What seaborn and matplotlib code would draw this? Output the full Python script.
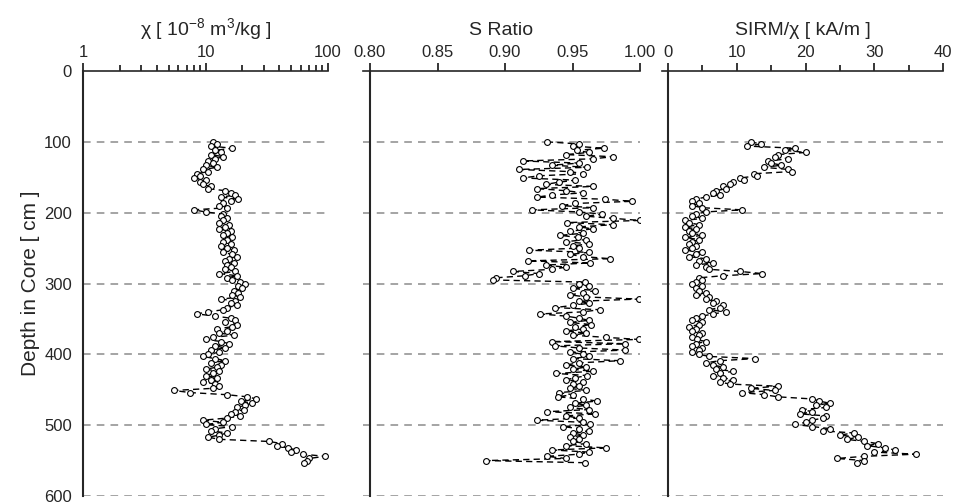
import matplotlib
matplotlib.use("Agg")
import matplotlib.pyplot as plt
import matplotlib.ticker as mticker
import seaborn as sns
import pandas as pd

sns.set_style("white")
plt.rcParams['font.family'] = ['Liberation Sans', 'DejaVu Sans']
plt.rcParams['mathtext.default'] = 'regular'

depth = [100, 103, 106, 109, 112, 115, 118, 121, 124, 127,
         130, 133, 136, 139, 142, 145, 148, 151, 154, 157,
         160, 163, 166, 169, 172, 175, 178, 181, 184, 187,
         190, 193, 196, 199, 202, 205, 208, 211, 214, 217,
         220, 223, 226, 229, 232, 235, 238, 241, 244, 247,
         250, 253, 256, 259, 262, 265, 268, 271, 274, 277,
         280, 283, 286, 289, 292, 295, 298, 301, 304, 307,
         310, 313, 316, 319, 322, 325, 328, 331, 334, 337,
         340, 343, 346, 349, 352, 355, 358, 361, 364, 367,
         370, 373, 376, 379, 382, 385, 388, 391, 394, 397,
         400, 403, 406, 409, 412, 415, 418, 421, 424, 427,
         430, 433, 436, 439, 442, 445, 448, 451, 454, 457,
         460, 463, 466, 469, 472, 475, 478, 481, 484, 487,
         490, 493, 496, 499, 502, 505, 508, 511, 514, 517,
         520, 523, 526, 529, 532, 535, 538, 541, 544, 547,
         550, 553]

chi = [11.5, 12.5, 11.0, 16.5, 12.0, 13.5, 11.0, 14.0, 12.0, 10.5,
       11.5, 10.0, 12.5, 9.5, 10.5, 8.5, 9.0, 8.0, 10.0, 9.0,
       9.5, 11.0, 10.5, 14.5, 16.0, 17.5, 13.5, 18.5, 16.0, 14.0,
       13.0, 15.0, 8.0, 10.0, 14.0, 13.5, 15.0, 14.0, 13.0, 15.5,
       14.5, 13.0, 16.0, 15.0, 14.0, 16.5, 15.0, 14.0, 16.0, 13.5,
       15.0, 17.0, 14.0, 16.5, 18.0, 15.5, 14.5, 17.0, 15.0, 16.0,
       14.5, 17.5, 13.0, 18.0, 15.0, 16.5, 19.0, 21.0, 18.5, 20.0,
       17.0, 18.5, 16.5, 19.0, 13.5, 17.5, 16.0, 18.0, 15.0, 14.0,
       10.5, 8.5, 12.0, 16.0, 17.5, 14.5, 18.0, 16.5, 12.5, 15.0,
       13.0, 17.0, 11.5, 10.0, 13.5, 15.5, 12.0, 14.5, 11.0, 13.0,
       10.5, 9.5, 12.0, 14.5, 11.0, 13.5, 12.5, 10.0, 13.0, 11.5,
       10.0, 12.5, 11.0, 9.5, 12.0, 13.0, 11.5, 5.5, 7.5, 15.0,
       22.0, 26.0, 19.5, 24.0, 21.0, 18.0, 20.5, 17.5, 16.0, 19.0,
       15.0, 9.5, 14.0, 10.0, 16.5, 12.0, 11.0, 15.0, 13.0, 10.5,
       13.0, 33.0, 42.0, 38.0, 47.0, 55.0, 50.0, 62.0, 95.0, 70.0,
       67.0, 64.0]

s_ratio = [0.931, 0.955, 0.950, 0.973, 0.953, 0.962, 0.945, 0.980, 0.965, 0.913,
           0.955, 0.935, 0.961, 0.910, 0.948, 0.958, 0.925, 0.913, 0.952, 0.940,
           0.930, 0.965, 0.924, 0.945, 0.958, 0.935, 0.924, 0.974, 0.994, 0.952,
           0.942, 0.965, 0.920, 0.955, 0.972, 0.960, 0.980, 1.000, 0.946, 0.980,
           0.955, 0.965, 0.948, 0.958, 0.941, 0.954, 0.960, 0.945, 0.962, 0.950,
           0.955, 0.918, 0.962, 0.948, 0.958, 0.978, 0.917, 0.963, 0.930, 0.945,
           0.935, 0.906, 0.925, 0.915, 0.893, 0.891, 0.959, 0.955, 0.962, 0.950,
           0.967, 0.958, 0.948, 0.960, 0.999, 0.955, 0.962, 0.950, 0.937, 0.970,
           0.958, 0.926, 0.945, 0.955, 0.962, 0.948, 0.964, 0.952, 0.958, 0.945,
           0.960, 0.950, 0.975, 0.999, 0.935, 0.989, 0.937, 0.955, 0.989, 0.948,
           0.958, 0.962, 0.950, 0.985, 0.955, 0.945, 0.960, 0.950, 0.965, 0.938,
           0.961, 0.952, 0.945, 0.958, 0.950, 0.955, 0.948, 0.960, 0.940, 0.950,
           0.939, 0.958, 0.968, 0.952, 0.960, 0.948, 0.962, 0.931, 0.967, 0.945,
           0.955, 0.924, 0.958, 0.963, 0.943, 0.955, 0.962, 0.950, 0.958, 0.948,
           0.955, 0.950, 0.960, 0.945, 0.975, 0.935, 0.962, 0.955, 0.931, 0.945,
           0.886, 0.959]

sirm_chi = [12.0, 13.5, 11.5, 18.5, 17.0, 20.0, 16.0, 15.5, 17.5, 14.5,
            15.0, 16.5, 14.0, 17.5, 18.0, 12.5, 13.0, 10.5, 11.0, 9.5,
            9.0, 8.0, 8.5, 7.0, 6.5, 7.5, 5.5, 4.0, 3.5, 4.5,
            3.5, 5.0, 10.7, 5.5, 4.0, 3.5, 5.0, 2.5, 3.0, 4.5,
            2.5, 4.0, 3.0, 3.5, 5.0, 2.5, 4.5, 3.5, 3.0, 4.0,
            3.5, 2.5, 5.0, 4.0, 3.0, 5.5, 4.5, 6.5, 4.0, 5.5,
            6.0, 10.5, 13.7, 8.0, 4.5, 5.0, 4.0, 3.5, 5.0, 4.0,
            4.5, 5.5, 4.0, 6.0, 5.5, 7.0, 6.5, 8.0, 7.5, 6.0,
            8.5, 6.5, 5.0, 4.0, 3.5, 5.0, 4.5, 3.0, 4.0, 3.5,
            5.0, 4.5, 3.5, 4.2, 5.5, 4.0, 3.5, 5.0, 4.5, 3.5,
            4.5, 6.0, 12.7, 7.5, 5.5, 6.5, 8.0, 7.0, 9.5, 7.5,
            6.5, 8.0, 9.5, 7.5, 9.0, 16.0, 12.0, 15.5, 10.7, 14.0,
            16.0, 21.0, 22.0, 23.5, 21.5, 23.0, 19.5, 21.0, 19.2, 23.0,
            22.5, 21.0, 20.0, 18.5, 21.0, 23.6, 22.5, 27.0, 25.0, 27.7,
            26.0, 28.5, 30.5, 29.0, 31.5, 33.0, 30.0, 36.0, 28.5, 24.6,
            28.5, 27.5]

df = pd.DataFrame({"depth": depth, "chi": chi, "s": s_ratio, "sirm": sirm_chi})

W, H = 957, 504
fig = plt.figure(figsize=(W / 100, H / 100), dpi=100)


def make_ax(left_px, right_px):
    top_px, bot_px = 71, 496
    return fig.add_axes([left_px / W, 1 - bot_px / H,
                         (right_px - left_px) / W, (bot_px - top_px) / H])


ax1 = make_ax(83, 328)
ax2 = make_ax(363, 640)
ax3 = make_ax(662, 943)

line_kw = dict(sort=False, estimator=None, color="black", linestyle=(0, (4.5, 3)),
               linewidth=1.0, marker="o", markersize=4.2, markerfacecolor="white",
               markeredgecolor="black", markeredgewidth=0.8, legend=False)

sns.lineplot(data=df, x="chi", y="depth", ax=ax1, **line_kw)
sns.lineplot(data=df, x="s", y="depth", ax=ax2, **line_kw)
sns.lineplot(data=df, x="sirm", y="depth", ax=ax3, **line_kw)

ax1.set_xscale("log")
ax1.set_xlim(1, 100)
ax1.xaxis.set_major_locator(mticker.FixedLocator([1, 10, 100]))
ax1.xaxis.set_major_formatter(mticker.FixedFormatter(["1", "10", "100"]))
ax1.xaxis.set_minor_locator(mticker.LogLocator(base=10, subs=range(2, 10)))
ax1.xaxis.set_minor_formatter(mticker.NullFormatter())

ax2.set_xlim(0.8 - 7 / 1350, 1.0)
ax2.set_xticks([0.80, 0.85, 0.90, 0.95, 1.00])
ax2.xaxis.set_major_formatter(mticker.FormatStrFormatter("%.2f"))

ax3.set_xlim(-6 / 6.875, 40)
ax3.set_xticks([0, 10, 20, 30, 40])
ax3.set_xticks([5, 15, 25, 35], minor=True)

labels = [r"χ [ 10$^{-8}$ m$^{3}$/kg ]", "S Ratio", "SIRM/χ [ kA/m ]"]
for i, (ax, lab) in enumerate(zip([ax1, ax2, ax3], labels)):
    ax.set_ylim(600, 0)
    ax.set_yticks([0, 100, 200, 300, 400, 500, 600])
    for y in [100, 200, 300, 400, 500, 600]:
        ax.axhline(y, color="#8c8c8c", linestyle=(0, (5, 4)), linewidth=1.1, zorder=0)
    ax.xaxis.tick_top()
    ax.xaxis.set_label_position("top")
    ax.set_xlabel(lab, fontsize=14, labelpad=7)
    ax.set_ylabel("")
    ax.spines["bottom"].set_visible(False)
    ax.spines["right"].set_visible(False)
    ax.spines["top"].set_linewidth(1.2)
    ax.spines["left"].set_linewidth(1.5)
    ax.tick_params(axis="both", which="major", direction="out", length=6, width=1.1,
                   labelsize=12, color="black", pad=2)
    ax.tick_params(axis="x", which="minor", direction="out", length=4, width=1.1,
                   color="black", top=True, bottom=False)
    ax.tick_params(axis="x", which="major", top=True, bottom=False)
    ax.tick_params(axis="y", which="minor", left=False)
    ax.set_facecolor("white")
    if i > 0:
        ax.tick_params(axis="y", labelleft=False)

ax2.spines["left"].set_position(("data", 0.80))
ax3.spines["left"].set_position(("data", 0))

ax1.set_ylabel("Depth in Core [ cm ]", fontsize=15, labelpad=3)

fig.savefig("out.png", dpi=100, facecolor="white")
